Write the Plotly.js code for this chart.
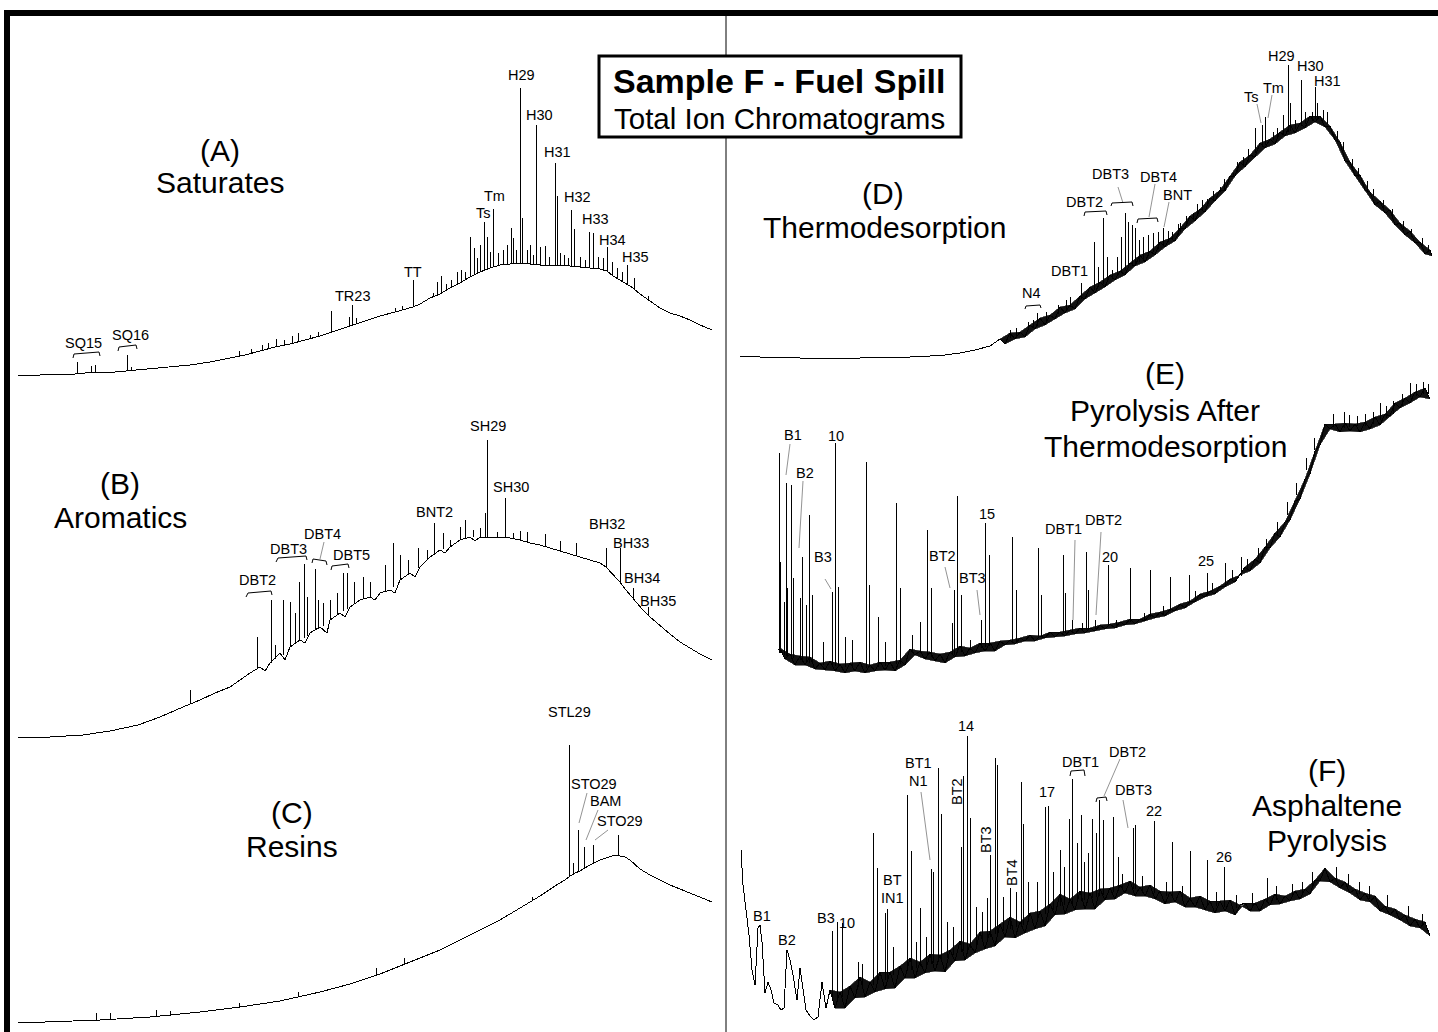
<!DOCTYPE html>
<html><head><meta charset="utf-8">
<script src="https://cdn.plot.ly/plotly-3.0.1.min.js"></script>
<style>html,body{margin:0;padding:0;background:#fff}#chart{width:1438px;height:1032px}
#chart .scatterlayer .js-line{shape-rendering:crispEdges}</style>
</head><body><div id="chart"></div>
<script>
// ===== DATA (retention time t in min, abundance I in arbitrary units) =====
// (A) Saturates
const satT=[1.8,4,6,7.5,8.5,10,11.5,13.5,15,17,19,21,23,24.5,26,27.5,29,30.5,32,33.5,35,36.5,38,39.5,40.5,41.3,42,43,44,45,46,47,48,49,50,51,52,53,54,55,56,57,58,59,60,60.7,61.3,62,62.7,63.3,64,65,66,67,68,69,70,71.2];
const satI=[5,5,6,6,7,8,8,10,11,13,15,18,22,25,29,33,36,40,44,49,54,59,64,68,71,73,76,82,86,92,97,103,108,112,115,116,117,116,115,115,115,114,113,112,111,109,104,100,96,92,86,79,72,67,64,60,55,50];
const satPkT=[7.7,9.1,9.5,12.7,13.1,23.9,25.1,26.2,26.8,27.6,28.4,29.2,29.8,31.0,31.8,33.1,34.9,35.2,35.6,39.5,40.2,41.3,43.3,43.7,44.1,44.6,45.1,45.7,46.1,46.5,47.0,47.4,47.7,48.0,48.4,48.7,49.0,49.3,49.8,50.3,50.7,51.1,51.3,51.6,52.0,52.2,52.7,53.0,53.3,53.6,54.0,54.5,54.9,55.5,55.7,56.0,56.4,56.8,57.1,57.4,58.0,58.5,58.9,59.3,59.8,60.3,60.7,61.2,61.7,62.2,62.7,63.4,64.8];
const satPkLo=[6,7,7,9,9,24,26,29,31,33,35,37,38,41,43,47,53,55,56,68,70,73,83,85,87,89,92,95,97,100,103,105,106,108,109,110,112,113,114,115,116,116,116,116,117,117,116,116,116,115,115,115,115,115,115,115,114,114,114,114,113,112,112,112,111,110,109,105,102,99,96,91,80];
const satPkHi=[18,14,15,25,13,29,31,35,37,41,40,44,47,45,48,69,63,75,62,72,74,100,87,98,104,96,100,108,110,108,143,132,122,135,158,143,128,171,127,130,135,152,142,130,292,162,130,135,125,255,133,134,123,217,184,127,125,122,170,151,123,120,148,147,123,122,133,118,112,108,115,102,84];
// (B) Aromatics
const aroT=[1.8,5,8.3,11,13.8,16,18.3,20,21.5,23,24,25,26,26.5,27,28,28.5,29,30,30.5,31,32,32.7,33,34,34.5,35,36,37,37.5,38,39,39.5,40,41,41.5,42,43,44,44.5,45,46,47,47.5,48,49,50,51,52,53,54,55,56,57,58,59,60,60.6,61.2,61.9,62.6,63.4,64.2,65,66,67,68,69,70,71.2];
const aroI=[8,8,10,14,20,28,38,45,52,58,65,72,78,74,82,92,85,98,105,102,112,118,112,125,132,128,138,145,148,145,152,155,152,165,172,168,178,188,195,192,198,205,208,204,208,207,208,207,205,202,200,197,194,191,188,185,182,178,172,164,155,145,136,128,119,111,103,97,91,85];
const aroPkT=[19.0,25.7,27.1,27.5,28.3,29.0,29.5,29.9,30.4,30.7,31.5,31.8,32.3,33.0,33.7,34.3,34.7,35.4,36.3,37.0,38.5,39.3,40.0,40.8,41.8,42.7,43.4,44.3,45.0,46.0,46.5,47.3,48.0,48.5,48.7,49.7,50.5,51.3,52.0,52.7,54.5,56.0,57.6,60.6,62.0,63.3,64.8];
const aroPkLo=[42,76,82,86,90,98,101,104,107,109,115,116,119,125,130,134,136,141,146,148,153,158,165,171,177,185,190,196,198,205,206,208,208,208,208,208,207,207,205,203,199,194,189,178,162,146,130];
const aroPkHi=[55,108,145,100,145,143,132,163,181,148,176,145,142,145,152,172,172,163,168,163,180,202,190,185,197,195,222,212,205,218,225,215,217,232,305,213,247,212,214,213,211,204,202,197,197,157,138];
// (C) Resins
const resT=[1.8,5,10,15,20,24,28,32,35,38,40,42,44,46,48,50,52,54,55.5,56.5,57,57.5,58,59,60,61,61.5,62,62.5,63,64,65,66,67,68,69,70,71.2];
const resI=[9,10,12,15,20,25,31,40,48,58,66,74,82,92,102,112,124,136,146,152,156,159,161,167,172,175,177,176,175,172,163,157,152,147,143,139,135,130];
const resPkT=[9.6,11.0,15.6,17.0,23.9,29.8,37.6,40.4,53.2,56.9,57.3,57.8,58.4,59.3,61.8];
const resPkLo=[11,12,15,16,25,35,57,68,131,155,157,160,163,168,176];
const resPkHi=[19,19,22,21,29,40,64,74,135,287,169,202,185,187,197];
// (D) Thermodesorption
const thdT=[2,4,6,8,11,14,17,19,21,22.5,24,25.5,27,28,28.5,29,29.5,30,30.5,31,31.5,32,32.5,33,33.5,34,34.5,35,35.5,36,36.5,37,37.5,38,38.5,39,39.5,40,40.5,41,41.5,42,42.5,43,43.5,44,44.5,45,45.5,46,46.5,47,47.5,48,48.5,49,49.5,50,50.5,51,51.5,52,52.5,53,53.5,54,54.5,55,55.5,56,56.5,57,57.5,58,58.5,59,59.5,60,60.5,61,61.5,62,62.5,63,63.5,64,64.5,65,65.5,66,66.5,67,67.5,68,68.5,69,69.5,70,70.5,71,71.2];
const thdI=[6,5,5,4,4,4,5,5,6,7,9,12,16,23,18,29,23,30,25,37,33,44,37,47,43,55,49,57,53,66,63,75,69,80,75,87,82,91,87,99,96,107,100,111,107,120,115,124,121,134,133,146,141,153,150,164,161,172,171,186,186,200,195,207,205,219,214,223,218,230,226,237,229,239,234,246,240,246,235,236,222,220,201,200,186,187,172,170,157,161,149,152,137,139,127,131,119,120,108,112,106];
const thdPkT=[29.0,31.3,31.7,35.0,36.1,37.4,37.8,38.3,38.7,39.2,39.7,40.1,40.5,40.8,41.2,41.5,41.9,42.3,42.8,43.3,43.8,44.3,45.2,46.0,47.3,48.7,50.0,51.3,52.3,53.5,54.2,54.5,55.3,56.3,56.8,57.0,57.5,58.1,58.5,59.5,59.7,60.3,60.7];
const thdPkLo=[24,34,36,55,63,72,75,78,80,83,87,89,92,94,96,98,100,103,106,110,113,117,123,130,143,156,170,185,197,209,215,217,222,227,230,231,233,236,238,243,243,242,238];
const thdPkHi=[32,42,49,65,79,120,95,144,105,92,105,125,149,140,137,134,122,125,127,129,130,134,130,139,149,163,175,189,205,234,237,245,230,247,297,259,242,282,250,275,259,252,250];
const thdNzT=[29.6,30.8,32.6,33.8,34.6,44.8,45.8,46.6,47.7,48.2,49.3,50.4,51.7,52.8,55.7,59.2,61.7,62.3,63.2,63.8,64.7,65.3,66.3,67.2,68.3,69.1,70.2,70.8];
const thdNzLo=[26,33,41,48,52,121,127,136,147,152,161,172,190,202,224,241,221,211,194,185,172,165,154,144,133,125,116,110];
const thdNzHi=[34,40,50,57,62,131,138,146,158,162,171,183,200,213,234,250,231,220,203,194,181,173,162,153,141,133,124,117];
// (E) Pyrolysis after thermodesorption
const pyrT=[5.8,6,6.5,7,7.5,8,8.5,9,9.5,10,10.5,11,11.5,12,12.5,13,13.5,14,14.5,15,15.5,16,16.5,17,17.5,18,18.5,19,19.5,20,20.5,21,21.5,22,22.5,23,23.5,24,24.5,25,25.5,26,26.5,27,27.5,28,28.5,29,29.5,30,30.5,31,31.5,32,32.5,33,33.5,34,34.5,35,35.5,36,36.5,37,37.5,38,38.5,39,39.5,40,40.5,41,41.5,42,42.5,43,43.5,44,44.5,45,45.5,46,46.5,47,47.5,48,48.5,49,49.5,50,50.5,51,51.5,52,52.5,53,53.5,54,54.5,55,55.5,56,56.5,57,57.5,58,58.5,59,59.5,60,60.5,61,61.5,62,62.5,63,63.5,64,64.5,65,65.5,66,66.5,67,67.5,68,68.5,69,69.5,70,70.5,71];
const pyrI=[30,32,21,26,15,24,15,23,11,17,10,19,9,16,7,17,9,18,7,15,9,18,10,18,9,20,15,31,25,29,21,28,19,26,17,28,23,34,24,32,27,37,29,37,29,39,35,40,36,42,39,45,39,44,42,48,43,48,44,50,46,52,47,52,49,55,51,56,52,58,55,61,56,61,59,66,62,68,64,71,69,76,72,79,78,86,83,89,86,94,93,101,98,105,113,109,121,117,133,132,147,143,158,160,179,181,201,206,229,235,256,251,256,248,257,249,256,248,258,251,263,255,266,264,277,272,282,277,288,283,292,281];
const pyrPkT=[5.9,6.0,6.4,6.6,6.7,7.1,7.3,8.0,8.2,8.6,8.9,9.2,10.3,11.2,11.5,11.8,12.5,13.2,14.6,14.9,15.8,16.5,17.6,18.0,19.2,20.0,20.7,21.1,23.2,23.4,23.7,24.1,25.0,26.1,26.5,26.9,29.2,29.6,31.8,32.1,34.3,34.5,35.2,36.6,36.8,37.5,38.8,41.0,43.0,45.0,46.9,48.7,50.5,52.1,53.8,62.4,66.0,69.0];
const pyrPkLo=[27,27,25,24,24,22,22,20,19,18,17,17,15,14,14,13,13,13,12,13,13,14,16,16,27,27,24,23,25,25,27,28,30,32,33,34,38,39,43,44,47,47,48,50,50,51,54,58,63,69,78,85,95,104,121,252,260,283];
const pyrPkHi=[227,118,78,197,92,195,102,82,123,75,165,85,38,88,237,93,43,40,218,95,63,38,177,92,45,58,150,92,57,90,184,85,40,60,157,125,143,90,132,85,125,87,60,128,90,60,115,112,110,103,105,107,117,123,132,268,277,297];
const pyrNzT=[36.2,39.6,42.4,44.3,47.5,49.2,51.2,52.7,54.6,55.7,56.7,57.6,58.6,59.4,61.3,62.9,63.7,64.5,65.3,66.6,67.3,68.2,69.6,70.3,70.8];
const pyrNzLo=[49,52,60,66,80,89,101,112,130,146,165,185,210,230,253,253,254,254,256,262,266,274,284,286,286];
const pyrNzHi=[57,60,67,74,89,97,110,121,141,158,178,197,222,242,266,265,264,266,268,274,279,286,296,298,296];
// (F) Asphaltene pyrolysis
const aspT=[2.1,2.3,2.6,2.9,3.2,3.5,3.8,4,4.2,4.5,4.8,5.1,5.4,5.8,6.1,6.4,6.7,7,7.3,7.7,8,8.3,8.6,9,9.4,9.8,10.2,10.6,11,11.5,12,12.5,13,13.5,14,14.5,15,15.5,16,16.5,17,17.5,18,18.5,19,19.5,20,20.5,21,21.5,22,22.5,23,23.5,24,24.5,25,25.5,26,26.5,27,27.5,28,28.5,29,29.5,30,30.5,31,31.5,32,32.5,33,33.5,34,34.5,35,35.5,36,36.5,37,37.5,38,38.5,39,39.5,40,40.5,41,41.5,42,42.5,43,43.5,44,44.5,45,45.5,46,46.5,47,47.5,48,48.5,49,49.5,50,50.5,51,51.5,52,52.5,53,53.5,54,54.5,55,55.5,56,56.5,57,57.5,58,58.5,59,59.5,60,60.5,61,61.5,62,62.5,63,63.5,64,64.5,65,65.5,66,66.5,67,67.5,68,68.5,69,69.5,70,70.5,71];
const aspI=[182,147,122,97,62,47,104,107,90,39,50,42,29,27,22,24,82,72,57,32,64,42,22,16,12,15,50,24,42,24,40,24,46,34,55,35,50,40,60,43,60,44,66,54,74,54,70,59,78,61,77,60,82,71,91,72,88,79,100,83,101,86,108,95,115,94,110,99,119,103,121,106,128,117,138,118,133,122,141,123,139,123,143,132,144,133,147,139,151,136,145,136,147,133,141,128,140,130,141,125,134,125,136,122,131,119,131,121,132,117,127,129,121,129,121,133,127,138,128,136,131,141,133,143,138,152,151,164,150,154,144,150,139,143,132,139,130,136,121,126,117,123,112,117,106,113,104,110,96];
const aspPkT=[11.2,11.7,12.2,15.3,15.7,16.5,16.7,18.7,19.1,20.0,21.1,21.3,21.8,22.1,24.1,24.3,24.7,25.0,26.7,27.0,27.5,27.7,29.0,30.1,30.3,31.7,32.5,32.8,34.0,34.9,35.2,35.7,36.1,36.8,37.2,37.6,37.9,38.3,39.3,41.3,41.5,43.4,45.2,47.0,48.7,50.4,54.7,64.9];
const aspPkLo=[33,34,35,47,49,52,53,61,62,66,68,69,70,71,80,81,82,84,93,95,98,99,103,106,107,113,118,119,126,129,129,130,131,133,134,135,136,137,140,143,143,139,135,131,128,125,129,133];
const aspPkHi=[101,110,109,199,164,119,123,237,181,124,163,160,264,218,185,256,296,214,134,177,274,267,144,250,208,150,225,226,182,213,253,189,217,179,213,199,232,212,215,204,207,211,190,181,172,165,154,146];
const aspNzT=[13.8,14.2,17.3,19.6,20.6,22.7,23.3,25.6,26.2,28.3,29.6,30.8,33.3,34.4,36.4,39.8,40.2,42.2,44.6,46.2,49.6,51.6,53.2,55.6,57.2,58.2,59.2,61.6,62.8,63.9,66.7,68.8,70.2];
const aspNzLo=[45,46,57,64,67,74,77,88,90,101,105,110,122,127,132,141,142,141,136,132,126,124,125,132,135,138,145,152,146,138,125,114,106];
const aspNzHi=[70,68,85,90,95,110,105,125,120,135,140,150,160,165,170,175,158,156,150,146,140,137,139,146,148,150,160,165,158,150,137,126,118];

// ===== LABELS =====
const peakLabels=[
 ['SQ15',83,343],['SQ16',130,335],['TR23',352,296],['TT',413,272],['Ts',483,213],['Tm',494,196],['H29',521,75],['H30',539,115],['H31',557,152],['H32',577,197],['H33',595,219],['H34',612,240],['H35',635,257],
 ['SH29',488,426],['SH30',511,487],['BNT2',434,512],['DBT4',322,534],['DBT3',288,549],['DBT5',351,555],['DBT2',257,580],['BH32',607,524],['BH33',631,543],['BH34',642,578],['BH35',658,601],
 ['STL29',569,712],['STO29',594,784],['BAM',605,801],['STO29',620,821],
 ['N4',1031,293],['DBT1',1069,271],['DBT2',1084,202],['DBT3',1110,174],['DBT4',1158,177],['BNT',1177,195],['Ts',1251,97],['Tm',1273,88],['H29',1281,56],['H30',1310,66],['H31',1327,81],
 ['B1',793,435],['B2',805,473],['10',836,436],['B3',823,557],['BT2',942,556],['BT3',972,578],['15',987,514],['DBT1',1063,529],['DBT2',1103,520],['20',1110,557],['25',1206,561],
 ['B1',762,916],['B2',787,940],['B3',826,918],['10',847,923],['BT',892,880],['IN1',892,898],['BT1',918,763],['N1',918,781],['14',966,726],['17',1047,792],['DBT1',1080,762],['DBT2',1127,752],['DBT3',1133,790],['22',1154,811],['26',1224,857]
];
const rotLabels=[['BT2',957,792],['BT3',986,840],['BT4',1012,873]];
const panelLabels=[
 ['(A)',220,150],['Saturates',220,183],['(B)',120,484],['Aromatics',120,517],['(C)',292,812],['Resins',292,846],
 ['(D)',883,193],['Thermodesorption',884,228],['(E)',1165,373],['Pyrolysis After',1165,410],['Thermodesorption',1165,446],
 ['(F)',1327,770],['Asphaltene',1327,805],['Pyrolysis',1327,840]
];
const titleMain='Sample F - Fuel Spill';
const titleSub='Total Ion Chromatograms';

// ===== BUILD =====
const W=1438,H=1032;
const FONT='Liberation Sans, Arial, Helvetica, sans-serif';
const px=x=>x/W, py=y=>1-y/H;
// [t, I, peak t, peak foot, peak top, xaxis, yaxis, width, start of noisy band (t) or null, noise t, noise foot, noise top]
const panels=[
 [satT,satI,satPkT,satPkLo,satPkHi,'x','y',1,null],
 [aroT,aroI,aroPkT,aroPkLo,aroPkHi,'x','y2',1,null],
 [resT,resI,resPkT,resPkLo,resPkHi,'x','y3',1,null],
 [thdT,thdI,thdPkT,thdPkLo,thdPkHi,'x2','y4',1,28,thdNzT,thdNzLo,thdNzHi],
 [pyrT,pyrI,pyrPkT,pyrPkLo,pyrPkHi,'x2','y5',1,6,pyrNzT,pyrNzLo,pyrNzHi],
 [aspT,aspI,aspPkT,aspPkLo,aspPkHi,'x2','y6',1,11,aspNzT,aspNzLo,aspNzHi]
];
const traces=[];
panels.forEach(p=>{
  if(p[8]!==null){
    // noisy band: alternate read points form the two edges of the band
    const a={x:[],y:[]},b={x:[],y:[]};let k=0;
    for(let i=0;i<p[0].length;i++){if(p[0][i]<p[8])continue;const o=(k%2)?b:a;o.x.push(p[0][i]);o.y.push(p[1][i]);k++;}
    traces.push({x:b.x,y:b.y,xaxis:p[5],yaxis:p[6],type:'scatter',mode:'lines',line:{color:'#000',width:0.5},hoverinfo:'skip',showlegend:false});
    traces.push({x:a.x,y:a.y,xaxis:p[5],yaxis:p[6],type:'scatter',mode:'lines',fill:'tonexty',fillcolor:'#111',line:{color:'#000',width:0.5},hoverinfo:'skip',showlegend:false});
  }
  traces.push({x:p[0],y:p[1],xaxis:p[5],yaxis:p[6],type:'scatter',mode:'lines',line:{color:'#000',width:p[7]},hoverinfo:'skip',showlegend:false});
  const sx=[],sy=[];
  const addSeg=(T,L,U)=>{for(let k=0;k<T.length;k++){sx.push(T[k],T[k],null);sy.push(L[k],U[k],null);}};
  addSeg(p[2],p[3],p[4]);
  if(p[9]) addSeg(p[9],p[10],p[11]);
  traces.push({x:sx,y:sy,xaxis:p[5],yaxis:p[6],type:'scatter',mode:'lines',line:{color:'#000',width:1},hoverinfo:'skip',showlegend:false,connectgaps:false});
});
const ann=[];
peakLabels.forEach(l=>ann.push({text:l[0],x:px(l[1]),y:py(l[2]),xref:'paper',yref:'paper',showarrow:false,xanchor:'center',yanchor:'middle',font:{family:FONT,size:14.5,color:'#000'}}));
rotLabels.forEach(l=>ann.push({text:l[0],x:px(l[1]),y:py(l[2]),xref:'paper',yref:'paper',showarrow:false,textangle:-90,xanchor:'center',yanchor:'middle',font:{family:FONT,size:14.5,color:'#000'}}));
panelLabels.forEach(l=>ann.push({text:l[0],x:px(l[1]),y:py(l[2]),xref:'paper',yref:'paper',showarrow:false,xanchor:'center',yanchor:'middle',font:{family:FONT,size:30,color:'#000'}}));
ann.push({text:'<b>'+titleMain+'</b>',x:px(780),y:py(81),xref:'paper',yref:'paper',showarrow:false,xanchor:'center',yanchor:'middle',font:{family:FONT,size:34,color:'#000'}});
ann.push({text:titleSub,x:px(780),y:py(119),xref:'paper',yref:'paper',showarrow:false,xanchor:'center',yanchor:'middle',font:{family:FONT,size:29.5,color:'#000'}});

const shapes=[];
function rect(x0,y0,x1,y1,fill,lw){shapes.push({type:'rect',layer:'above',xref:'paper',yref:'paper',x0:px(x0),x1:px(x1),y0:py(y1),y1:py(y0),fillcolor:fill,line:{color:'#000',width:lw}});}
rect(4,10,1438,16,'#000',0);
rect(4,10,10,1032,'#000',0);
shapes.push({type:'line',layer:'above',xref:'paper',yref:'paper',x0:px(726),x1:px(726),y0:py(16),y1:py(1032),line:{color:'#000',width:1}});
rect(599,56,961,137,'#fff',3);
const leaders=[[324,542,320,559],[587,793,579,823],[598,810,586,840],[608,830,595,840],
 [1118,187,1123,203],[1155,184,1149,217],[1169,202,1164,227],[1257,104,1261,123],[1272,95,1268,118],
 [790,444,786,475],[803,481,799,548],[825,579,831,589],[945,567,950,588],[977,590,980,615],[1075,540,1073,620],[1101,532,1096,615],
 [921,792,930,860],[1120,759,1104,796],[1123,800,1128,828]];
leaders.forEach(l=>shapes.push({type:'line',layer:'above',xref:'paper',yref:'paper',x0:px(l[0]),y0:py(l[1]),x1:px(l[2]),y1:py(l[3]),line:{color:'#777',width:0.8}}));
const brackets=[
 [[73,358],[74,354],[99,352],[100,356]],[[118,351],[119,347],[136,345],[137,349]],
 [[246,597],[248,593],[271,591],[272,595]],[[276,562],[278,558],[306,556],[307,560]],[[312,563],[313,559],[326,561],[327,565]],[[331,570],[332,566],[348,564],[349,568]],
 [[1025,309],[1026,306],[1040,305],[1041,308]],[[1084,216],[1085,212],[1106,211],[1107,215]],[[1111,206],[1112,203],[1132,202],[1133,206]],[[1137,223],[1138,219],[1157,218],[1158,222]],
 [[1070,776],[1071,771],[1084,770],[1085,776]],[[1096,802],[1097,798],[1106,797],[1107,801]]];
brackets.forEach(b=>{const d=b.map((q,k)=>(k?'L':'M')+px(q[0])+','+py(q[1])).join(' ');shapes.push({type:'path',layer:'above',xref:'paper',yref:'paper',path:d,line:{color:'#000',width:1}});});

const ax={visible:false,fixedrange:true,showgrid:false,zeroline:false};
const layout={width:W,height:H,margin:{l:0,r:0,t:0,b:0},paper_bgcolor:'#fff',plot_bgcolor:'rgba(0,0,0,0)',showlegend:false,
 xaxis:Object.assign({domain:[0,719/W],range:[0,71.9],anchor:'y'},ax),
 xaxis2:Object.assign({domain:[720/W,1],range:[0,71.8],anchor:'y4'},ax),
 yaxis:Object.assign({domain:[1-380/H,1-16/H],range:[0,364],anchor:'x'},ax),
 yaxis2:Object.assign({domain:[1-745/H,1-380/H],range:[0,365],anchor:'x'},ax),
 yaxis3:Object.assign({domain:[0,1-690/H],range:[0,342],anchor:'x'},ax),
 yaxis4:Object.assign({domain:[1-362/H,1-16/H],range:[0,346],anchor:'x2'},ax),
 yaxis5:Object.assign({domain:[1-680/H,1-362/H],range:[0,318],anchor:'x2'},ax),
 yaxis6:Object.assign({domain:[0,1-680/H],range:[0,352],anchor:'x2'},ax),
 annotations:ann,shapes:shapes};
Plotly.newPlot('chart',traces,layout,{displayModeBar:false,staticPlot:true});
</script></body></html>
